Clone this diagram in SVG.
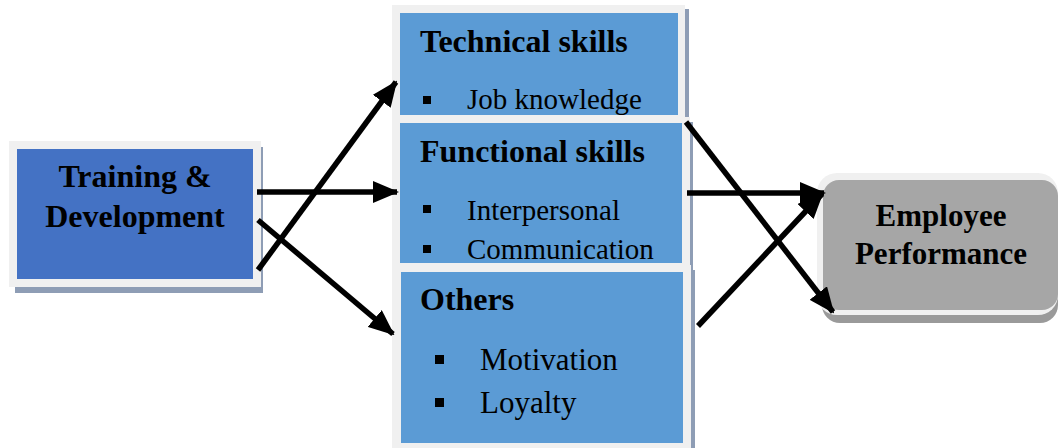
<svg xmlns="http://www.w3.org/2000/svg" width="1058" height="448" viewBox="0 0 1058 448">
<defs>
<style>
.b{font-family:"Liberation Serif","Times New Roman",serif;font-weight:bold;font-size:32px;fill:#000}
.e{font-size:31px}
.r{font-family:"Liberation Serif","Times New Roman",serif;font-size:29px;fill:#000}
.r2{font-family:"Liberation Serif","Times New Roman",serif;font-size:31px;fill:#000}
.frame{fill:#f0f0f0}
.shadow{fill:#8e9db5}
.blue{fill:#5b9bd5}
.ln{stroke:#000;stroke-width:5.5;fill:none;marker-end:url(#ah)}
</style>
<marker id="ah" markerUnits="userSpaceOnUse" markerWidth="26" markerHeight="22" viewBox="0 0 26 22" refX="24" refY="11" orient="auto">
<path d="M0,0 L26,11 L0,22 Z" fill="#000"/>
</marker>
</defs>
<rect width="1058" height="448" fill="#fff"/>
<g id="training">
<rect x="15" y="147" width="248" height="146" class="shadow"/>
<rect x="9" y="141" width="252" height="146" class="frame"/>
<rect x="17" y="149" width="236" height="130" fill="#4472c4"/>
<text class="b" x="135" y="187" text-anchor="middle">Training &amp;</text>
<text class="b" x="135" y="227" text-anchor="middle">Development</text>
</g>
<g id="technical">
<rect x="396" y="9" width="293" height="110" class="shadow"/>
<rect x="392" y="5" width="293" height="113" class="frame"/>
<rect x="400" y="13" width="278" height="102" class="blue"/>
<text class="b" x="420" y="52">Technical skills</text>
<rect x="423" y="96" width="8" height="8"/>
<text class="r" x="467" y="109">Job knowledge</text>
</g>
<g id="functional">
<rect x="396" y="122" width="297" height="148" class="shadow"/>
<rect x="392" y="117" width="298" height="151" class="frame"/>
<rect x="400" y="123" width="282" height="140" class="blue"/>
<text class="b" x="420" y="162">Functional skills</text>
<rect x="423" y="205" width="8" height="8"/>
<text class="r" x="467" y="220">Interpersonal</text>
<rect x="423" y="245" width="8" height="8"/>
<text class="r" x="467" y="259">Communication</text>
</g>
<g id="others">
<rect x="396" y="270" width="299" height="178" class="shadow"/>
<rect x="392" y="265" width="299" height="183" class="frame"/>
<rect x="401" y="272" width="282" height="171" class="blue"/>
<text class="b" x="420" y="310">Others</text>
<rect x="435" y="355" width="9" height="9"/>
<text class="r2" x="480" y="370">Motivation</text>
<rect x="435" y="398" width="9" height="9"/>
<text class="r2" x="480" y="413">Loyalty</text>
</g>
<g id="performance">
<rect x="822" y="181" width="236" height="142" rx="18" fill="#9a9a9a"/>
<rect x="817" y="173" width="241" height="142" rx="20" class="frame"/>
<rect x="823" y="180" width="235" height="130" rx="16" fill="#a6a6a6"/>
<text class="b e" x="941" y="226" text-anchor="middle">Employee</text>
<text class="b e" x="941" y="264" text-anchor="middle">Performance</text>
</g>
<g id="connectors">
<line class="ln" x1="257" y1="192" x2="397" y2="192"/>
<line class="ln" x1="258" y1="270" x2="396" y2="82"/>
<line class="ln" x1="258" y1="220" x2="393" y2="334"/>
<line class="ln" x1="686" y1="122" x2="833" y2="312"/>
<line class="ln" x1="687" y1="193" x2="824" y2="193"/>
<line class="ln" x1="698" y1="326" x2="822" y2="194"/>
</g>
</svg>
